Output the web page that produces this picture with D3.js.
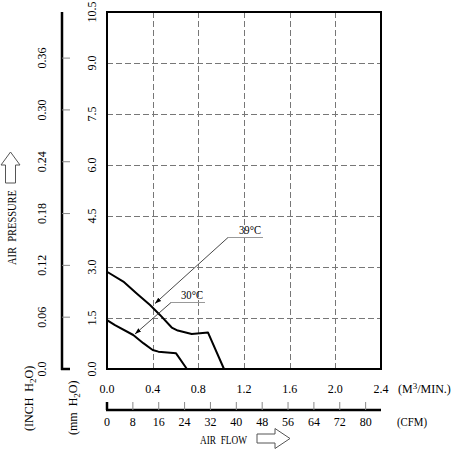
<!DOCTYPE html>
<html>
<head>
<meta charset="utf-8">
<script src="https://cdn.jsdelivr.net/npm/d3@7"></script>
<style>
  body { margin: 0; background: #fff; }
  text { font-family: "Liberation Serif", "DejaVu Serif", serif; fill: #000; white-space: pre; }
</style>
</head>
<body>
<div id="chart"></div>
<script>
// flow in M3/MIN, pressure in mm H2O
const flowTicks = [0.0, 0.4, 0.8, 1.2, 1.6, 2.0, 2.4];
const pressureTicks = [0.0, 1.5, 3.0, 4.5, 6.0, 7.5, 9.0, 10.5];
const inchTicks = [0.0, 0.06, 0.12, 0.18, 0.24, 0.30, 0.36];
const cfmTicks = [0, 8, 16, 24, 32, 40, 48, 56, 64, 72, 80];

const curve39Flow = [0, 0.143, 0.26, 0.377, 0.464, 0.567, 0.62, 0.742, 0.815, 0.885, 1.025];
const curve39Pres = [2.86, 2.57, 2.22, 1.88, 1.59, 1.22, 1.13, 1.03, 1.05, 1.07, 0];
const curve30Flow = [0, 0.07, 0.23, 0.318, 0.40, 0.45, 0.605, 0.70];
const curve30Pres = [1.44, 1.29, 1.0, 0.76, 0.56, 0.51, 0.46, 0];

const width = 451;
const height = 450;
const plot = { left: 107, right: 381, top: 12, bottom: 369 };

const svg = d3.select('#chart').append('svg')
    .attr('width', width)
    .attr('height', height);

const x = d3.scaleLinear().domain([0, 2.4]).range([plot.left, plot.right]);
const y = d3.scaleLinear().domain([0, 10.5]).range([plot.bottom, plot.top]);
const yInch = d3.scaleLinear().domain([0, 10.5 / 25.4]).range([plot.bottom, plot.top]);
const xCfm = d3.scaleLinear().domain([0, 2.4 * 35.3147]).range([plot.left, plot.right]);

// grid
const grid = svg.append('g')
    .attr('stroke', '#777')
    .attr('stroke-width', 1)
    .attr('stroke-dasharray', '6,3');
grid.selectAll('.vg').data(flowTicks.slice(1, -1)).join('line')
    .attr('x1', d => Math.round(x(d)) + 0.5).attr('x2', d => Math.round(x(d)) + 0.5)
    .attr('y1', plot.top).attr('y2', plot.bottom);
grid.selectAll('.hg').data(pressureTicks.slice(1, -1)).join('line')
    .attr('y1', d => Math.round(y(d)) + 0.5).attr('y2', d => Math.round(y(d)) + 0.5)
    .attr('x1', plot.left).attr('x2', plot.right);

// plot frame
svg.append('rect')
    .attr('x', plot.left).attr('y', plot.top)
    .attr('width', plot.right - plot.left).attr('height', plot.bottom - plot.top)
    .attr('fill', 'none').attr('stroke', '#000').attr('stroke-width', 2);

// curves
const line = d3.line().x(d => x(d[0])).y(d => y(d[1]));
const curves = [d3.zip(curve39Flow, curve39Pres), d3.zip(curve30Flow, curve30Pres)];
svg.selectAll('.curve').data(curves).join('path')
    .attr('d', line)
    .attr('fill', 'none').attr('stroke', '#000').attr('stroke-width', 2)
    .attr('stroke-linejoin', 'round');

// mm H2O labels (rotated)
svg.selectAll('.mm').data(pressureTicks).join('text')
    .attr('transform', d => `translate(96,${y(d)}) rotate(-90)`)
    .attr('text-anchor', 'middle')
    .attr('font-size', 12)
    .text(d => d.toFixed(1));

// inch H2O axis
const inchX = 62;
svg.append('line')
    .attr('x1', inchX).attr('x2', inchX)
    .attr('y1', plot.top).attr('y2', plot.bottom + 1)
    .attr('stroke', '#000').attr('stroke-width', 2.5);
svg.append('line')
    .attr('x1', inchX - 1).attr('x2', inchX + 8)
    .attr('y1', plot.bottom).attr('y2', plot.bottom)
    .attr('stroke', '#000').attr('stroke-width', 2.5);
svg.selectAll('.itick').data(inchTicks.slice(1)).join('line')
    .attr('x1', inchX).attr('x2', inchX + 8)
    .attr('y1', d => yInch(d)).attr('y2', d => yInch(d))
    .attr('stroke', '#888').attr('stroke-width', 1);
svg.selectAll('.ilab').data(inchTicks).join('text')
    .attr('transform', d => `translate(46,${yInch(d)}) rotate(-90)`)
    .attr('text-anchor', 'middle')
    .attr('font-size', 12)
    .text(d => d === 0 ? '0.0' : d.toFixed(2));

// flow labels (M3/MIN)
svg.selectAll('.flab').data(flowTicks).join('text')
    .attr('x', d => x(d)).attr('y', 393)
    .attr('text-anchor', 'middle')
    .attr('font-size', 12)
    .text(d => d.toFixed(1));
const m3 = svg.append('text').attr('x', 398).attr('y', 393).attr('font-size', 12);
m3.append('tspan').text('(M');
m3.append('tspan').attr('font-size', 9).attr('dy', -4).text('3');
m3.append('tspan').attr('dy', 4).text('/MIN.)');

// CFM axis
const cfmY = 410;
svg.append('line')
    .attr('x1', plot.left - 1).attr('x2', plot.right)
    .attr('y1', cfmY).attr('y2', cfmY)
    .attr('stroke', '#000').attr('stroke-width', 2.5);
svg.append('line')
    .attr('x1', xCfm(0)).attr('x2', xCfm(0))
    .attr('y1', cfmY).attr('y2', cfmY - 8)
    .attr('stroke', '#000').attr('stroke-width', 2.5);
svg.selectAll('.ctick').data(cfmTicks.slice(1)).join('line')
    .attr('x1', d => xCfm(d)).attr('x2', d => xCfm(d))
    .attr('y1', cfmY).attr('y2', cfmY - 8)
    .attr('stroke', '#888').attr('stroke-width', 1);
svg.selectAll('.clab').data(cfmTicks).join('text')
    .attr('x', d => xCfm(d)).attr('y', 426)
    .attr('text-anchor', 'middle')
    .attr('font-size', 12)
    .text(d => d);
svg.append('text').attr('x', 397).attr('y', 426).attr('font-size', 12)
    .attr('textLength', 30).attr('lengthAdjust', 'spacingAndGlyphs')
    .text('(CFM)');

// axis titles
svg.append('text').attr('x', 200).attr('y', 444).attr('font-size', 12)
    .attr('textLength', 47).attr('lengthAdjust', 'spacingAndGlyphs')
    .text('AIR  FLOW');
svg.append('path')
    .attr('d', 'M257,434 H275 V428.5 L290,438.5 L275,448.5 V443 H257 Z')
    .attr('fill', 'none').attr('stroke', '#555').attr('stroke-width', 1);

svg.append('text')
    .attr('transform', 'translate(16,265) rotate(-90)')
    .attr('font-size', 12)
    .attr('textLength', 75).attr('lengthAdjust', 'spacingAndGlyphs')
    .text('AIR  PRESSURE');
svg.append('path')
    .attr('d', 'M5.5,183 V165 H1 L10.5,152 L20,165 H15.5 V183 Z')
    .attr('fill', 'none').attr('stroke', '#555').attr('stroke-width', 1);

const inchTitle = svg.append('text')
    .attr('transform', 'translate(33,431) rotate(-90)')
    .attr('font-size', 12);
inchTitle.append('tspan').text('(INCH  H');
inchTitle.append('tspan').attr('font-size', 9).attr('dy', 3).text('2');
inchTitle.append('tspan').attr('dy', -3).text('O)');

const mmTitle = svg.append('text')
    .attr('transform', 'translate(77,435) rotate(-90)')
    .attr('font-size', 12);
mmTitle.append('tspan').text('(mm  H');
mmTitle.append('tspan').attr('font-size', 9).attr('dy', 3).text('2');
mmTitle.append('tspan').attr('dy', -3).text('O)');

// curve callouts
const callouts = [
    { label: '39°C', tx: 250, ty: 234, ux1: 228, ux2: 263, uy: 237.5, ax: 155, ay: 303.5 },
    { label: '30°C', tx: 192, ty: 299, ux1: 171, ux2: 205, uy: 302.5, ax: 135, ay: 334 }
];
const defs = svg.append('defs');
defs.append('marker')
    .attr('id', 'arr').attr('viewBox', '0 0 10 10')
    .attr('refX', 10).attr('refY', 5)
    .attr('markerWidth', 7).attr('markerHeight', 7)
    .attr('orient', 'auto')
    .append('path').attr('d', 'M0,1.5 L10,5 L0,8.5 Z').attr('fill', '#000');

callouts.forEach(c => {
    svg.append('text').attr('x', c.tx).attr('y', c.ty)
        .attr('text-anchor', 'middle').attr('font-size', 12)
        .attr('textLength', 22).attr('lengthAdjust', 'spacingAndGlyphs')
        .text(c.label);
    svg.append('line')
        .attr('x1', c.ux1).attr('x2', c.ux2).attr('y1', c.uy).attr('y2', c.uy)
        .attr('stroke', '#999').attr('stroke-width', 1);
    svg.append('line')
        .attr('x1', c.ux1).attr('y1', c.uy).attr('x2', c.ax).attr('y2', c.ay)
        .attr('stroke', '#333').attr('stroke-width', 0.9)
        .attr('marker-end', 'url(#arr)');
});
</script>
</body>
</html>
